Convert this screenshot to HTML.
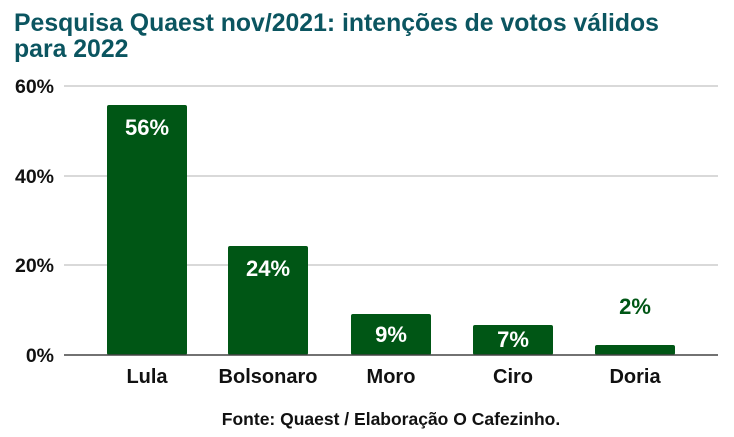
<!DOCTYPE html>
<html><head><meta charset="utf-8"><style>
body{margin:0;background:#fff}
svg{display:block}
text{font-family:"Liberation Sans",sans-serif;font-weight:bold}
</style></head><body>
<svg width="734" height="437" viewBox="0 0 734 437" xmlns="http://www.w3.org/2000/svg">
<rect width="734" height="437" fill="#fff"/>
<text x="14" y="31" font-size="24.8" fill="#0b5560">Pesquisa Quaest nov/2021: intenções de votos válidos</text>
<text x="14" y="57" font-size="24.8" fill="#0b5560">para 2022</text>
<g stroke="#d9d9d9" stroke-width="2">
<line x1="64" y1="86" x2="718" y2="86"/>
<line x1="64" y1="176" x2="718" y2="176"/>
<line x1="64" y1="265" x2="718" y2="265"/>
</g>
<g font-size="19.5" fill="#111" text-anchor="end">
<text x="54" y="93">60%</text>
<text x="54" y="183">40%</text>
<text x="54" y="272">20%</text>
<text x="54" y="362">0%</text>
</g>
<g fill="#005615">
<rect x="107" y="105" width="80" height="250" rx="2"/>
<rect x="228" y="246" width="80" height="109" rx="2"/>
<rect x="351" y="314" width="80" height="41" rx="2"/>
<rect x="473" y="325" width="80" height="30" rx="2"/>
<rect x="595" y="345" width="80" height="10" rx="2"/>
</g>
<line x1="64" y1="355" x2="718" y2="355" stroke="#444" stroke-width="1.5"/>
<g font-size="22" fill="#fff" text-anchor="middle">
<text x="147" y="135">56%</text>
<text x="268" y="276">24%</text>
<text x="391" y="342">9%</text>
<text x="513" y="347">7%</text>
</g>
<text x="635" y="314" font-size="22" fill="#005615" text-anchor="middle">2%</text>
<g font-size="20" fill="#111" text-anchor="middle">
<text x="147" y="383">Lula</text>
<text x="268" y="383">Bolsonaro</text>
<text x="391" y="383">Moro</text>
<text x="513" y="383">Ciro</text>
<text x="635" y="383">Doria</text>
</g>
<text x="391" y="425" font-size="17.5" fill="#111" text-anchor="middle">Fonte: Quaest / Elaboração O Cafezinho.</text>
</svg>
</body></html>
